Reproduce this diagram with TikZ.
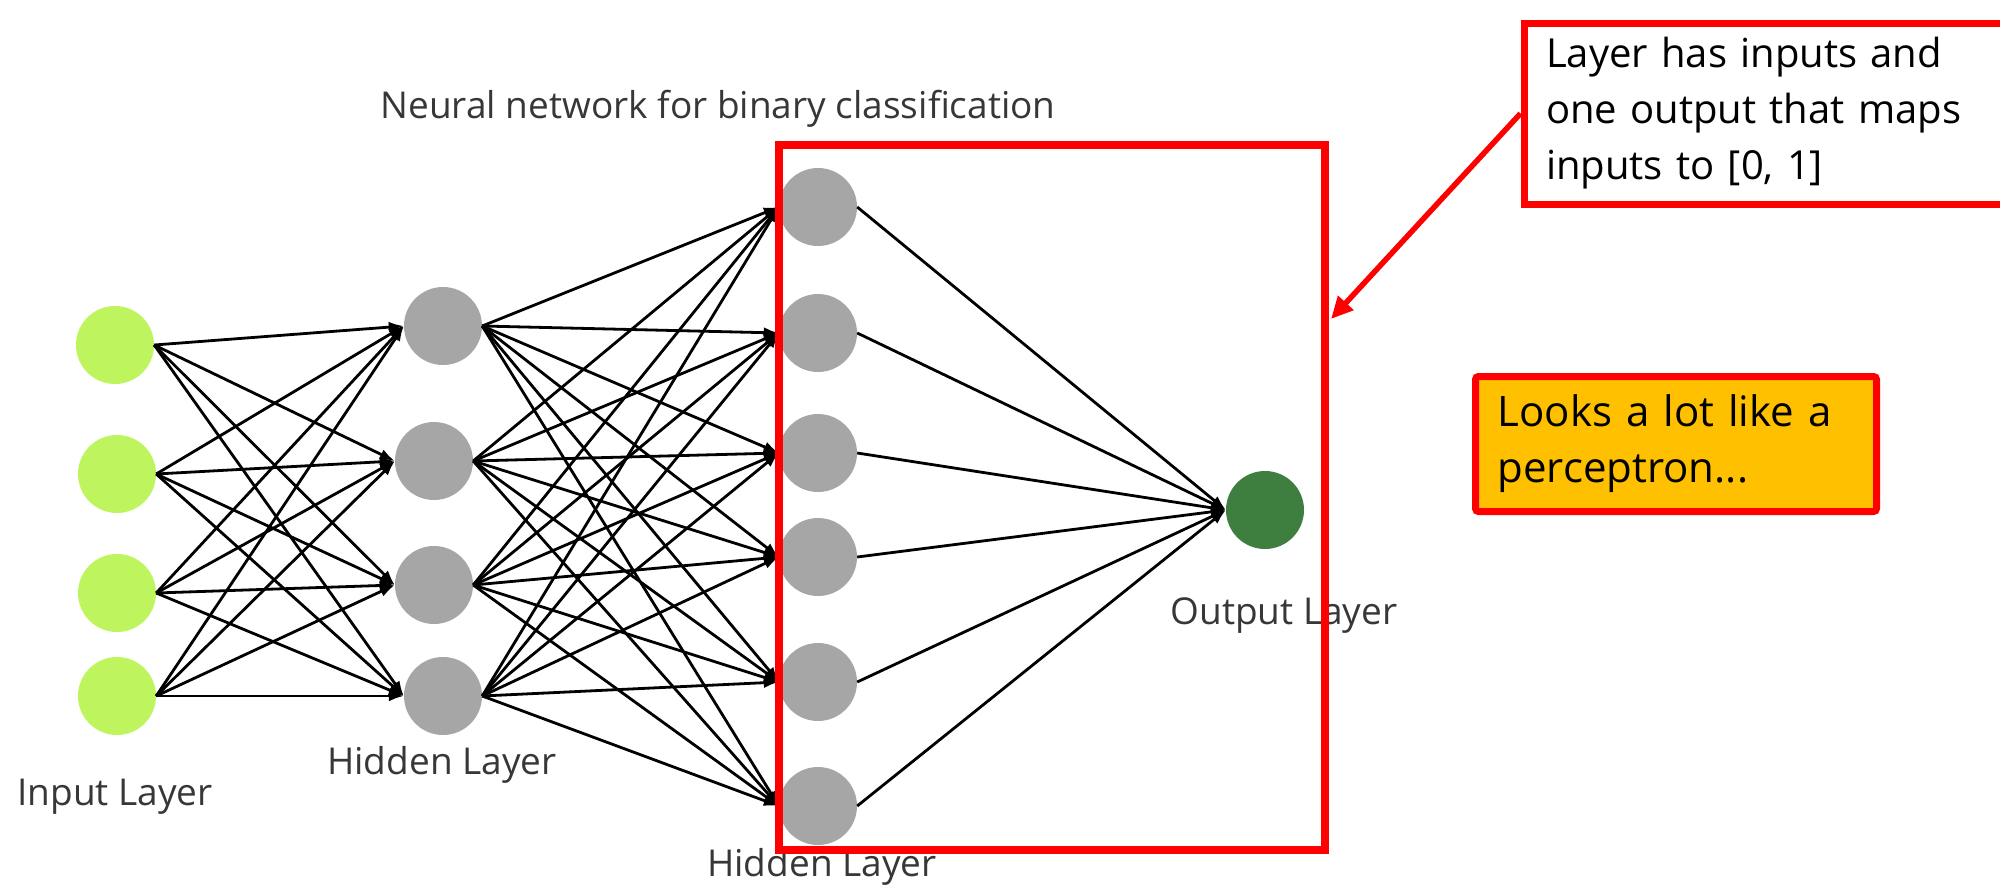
\documentclass[tikz,border=0pt]{standalone}
\usepackage{fontspec}
\setmainfont{Open Sans}
\usetikzlibrary{arrows.meta}
\definecolor{inputgreen}{RGB}{190,245,95}
\definecolor{hiddengray}{RGB}{166,166,166}
\definecolor{outgreen}{RGB}{62,126,62}
\definecolor{labelgray}{RGB}{55,55,55}
\definecolor{markred}{RGB}{255,0,0}
\definecolor{noteorange}{RGB}{255,192,0}
\begin{document}
\begin{tikzpicture}[x=1pt,y=-1pt,
  neuron/.style={circle, minimum size=78pt, inner sep=0pt, draw=none},
  innode/.style={neuron, fill=inputgreen},
  hidnode/.style={neuron, fill=hiddengray},
  outnode/.style={neuron, fill=outgreen},
  link/.style={draw=black, line width=2.8pt, -{Latex[length=15pt,width=11pt]}},
  layerlabel/.style={text=labelgray, inner sep=0pt, font=\fontsize{37}{44}\selectfont},
  frame/.style={draw=markred, line width=8pt, rectangle, inner sep=0pt},
  notebox/.style={draw=markred, line width=7pt, align=left, inner xsep=22pt,
    font=\fontsize{40}{56}\selectfont},
  pointer/.style={draw=markred, line width=5.5pt, -{Triangle[length=22pt,width=20pt]}},
]
\useasboundingbox (0,0) rectangle (2000,889);
\clip (0,0) rectangle (2000,889);

% input layer
\node[innode] (i1) at (115,345) {};
\node[innode] (i2) at (117,474) {};
\node[innode] (i3) at (117,593) {};
\node[innode] (i4) at (117,696) {};

% first hidden layer
\node[hidnode] (h1) at (443,326) {};
\node[hidnode] (h2) at (434,461) {};
\node[hidnode] (h3) at (434,585) {};
\node[hidnode] (h4) at (443,696) {};

% second hidden layer
\node[hidnode] (g1) at (818,207) {};
\node[hidnode] (g2) at (818,333) {};
\node[hidnode] (g3) at (818,453) {};
\node[hidnode] (g4) at (818,557) {};
\node[hidnode] (g5) at (818,682) {};
\node[hidnode] (g6) at (818,806) {};

% output neuron
\node[outnode] (o) at (1265,510) {};

% fully connected weights
\foreach \a in {1,...,4}{\foreach \b in {1,...,4}{\draw[link] (i\a.east) -- (h\b.west);}}
\foreach \a in {1,...,4}{\foreach \b in {1,...,6}{\draw[link] (h\a.east) -- (g\b.west);}}
\foreach \a in {1,...,6}{\draw[link] (g\a.east) -- (o.west);}

% captions
\node[layerlabel] (title) at (718,109) {Neural network for binary classification};
\node[layerlabel] (tin) at (115,797) {Input Layer};
\node[layerlabel] (th1) at (442,765) {Hidden Layer};
\node[layerlabel] (th2) at (822,867) {Hidden Layer};
\node[layerlabel] (tout) at (1284,616) {Output Layer};

% highlighted last layer
\node[frame, minimum width=546pt, minimum height=705pt] (frame) at (1052,497.5) {};

% annotations
\node[notebox, fill=white, anchor=north west, minimum height=181pt, text width=480pt]
  (callout) at (1520.5,19.5) {Layer has inputs and\\one output that maps\\inputs to [0, 1]};
\coordinate (tip) at (1331,319);
\draw[pointer] (callout.west) -- (tip);

\node[notebox, fill=noteorange, rounded corners=3pt, anchor=north west,
  minimum height=135pt, text width=357pt, font=\fontsize{42}{56}\selectfont]
  (perc) at (1472,373) {Looks a lot like a\\perceptron...};
\end{tikzpicture}
\end{document}
